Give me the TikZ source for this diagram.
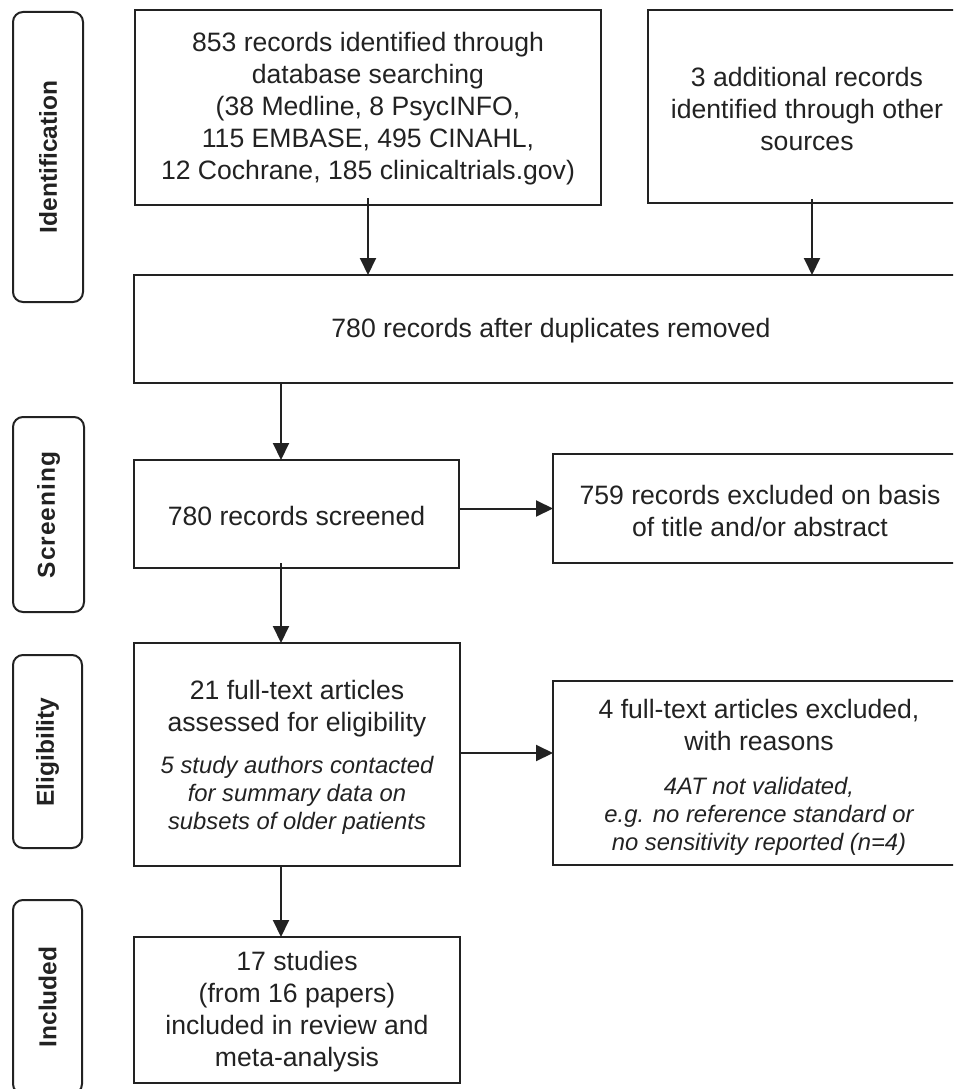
\documentclass[tikz,border=0pt]{standalone}
\usepackage{fontspec}
\setmainfont{Liberation Sans}
\usetikzlibrary{arrows.meta}
\definecolor{ink}{HTML}{222222}
\newcommand\mtxt{\fontsize{26.6}{32}\selectfont}
\newcommand\itxt{\fontsize{23.8}{28}\selectfont\itshape}
\newcommand\lbltxt{\fontsize{24.5}{28}\selectfont\bfseries}
\begin{document}
\begin{tikzpicture}[x=1pt,y=-1pt,
  every node/.style={inner sep=0pt, outer sep=0pt, text=ink},
  stagebox/.style={draw=ink, line width=2pt, rounded corners=10pt},
  stagelbl/.style={font=\lbltxt, rotate=90},
  txt/.style={font=\mtxt, align=center},
  ittxt/.style={font=\itxt, align=center},
  arr/.style={draw=ink, line width=2pt, -{Triangle[length=17pt,width=16pt]}}
]
\useasboundingbox (0,0) rectangle (953,1089);
\clip (0,0) rectangle (953,1089);

% stage labels
\draw[stagebox] (13,12) rectangle (83,302);
\node[stagelbl] (lid) at (48,157) {Identification};
\draw[stagebox] (13,417) rectangle (84,612);
\node[stagelbl] (lsc) at (48.5,515) {\addfontfeature{LetterSpace=4}Screening};
\draw[stagebox] (13,655) rectangle (82,848);
\node[stagelbl] (lel) at (47.5,752) {Eligibility};
\draw[stagebox] (13,900) rectangle (82,1094);
\node[stagelbl] (lin) at (47.5,997) {Included};

% boxes
\node[draw=ink, line width=2pt, minimum width=466pt, minimum height=195pt] (b1) at (368,107.5) {};
\node[txt] (t1) at (368,109) {853 records identified through\\database searching\\(38 Medline, 8 PsycINFO,\\115 EMBASE, 495 CINAHL,\\12 Cochrane, 185 clinicaltrials.gov)};

\node[draw=ink, line width=2pt, minimum width=318pt, minimum height=193pt] (b2) at (807,106.5) {};
\node[txt] (t2) at (807,109) {3 additional records\\identified through other\\sources};

\node[draw=ink, line width=2pt, minimum width=833pt, minimum height=108pt] (b3) at (550,329) {};
\node[txt] (t3) at (551,331) {780 records after duplicates removed};

\node[draw=ink, line width=2pt, minimum width=325pt, minimum height=108pt] (b4) at (296.5,514) {};
\node[txt] (t4) at (296.5,516) {780 records screened};

\node[draw=ink, line width=2pt, minimum width=413pt, minimum height=109pt] (b5) at (759.5,508.5) {};
\node[txt] (t5) at (760,511) {759 records excluded on basis\\of title and/or abstract};

\node[draw=ink, line width=2pt, minimum width=326pt, minimum height=223pt] (b6) at (297,754.5) {};
\node[txt] (t6a) at (297,709) {21 full-text articles\\assessed for eligibility};
\node[ittxt] (t6b) at (297,795) {5 study authors contacted\\for summary data on\\subsets of older patients};

\node[draw=ink, line width=2pt, minimum width=413pt, minimum height=184pt] (b8) at (759.5,773) {};
\node[txt] (t8a) at (759,725) {4 full-text articles excluded,\\with reasons};
\node[ittxt] (t8b) at (759,816) {4AT not validated,\\e.g. no reference standard or\\no sensitivity reported (n=4)};

\node[draw=ink, line width=2pt, minimum width=326pt, minimum height=146pt] (b7) at (297,1010) {};
\node[txt] (t7) at (297,1012) {17 studies\\(from 16 papers)\\included in review and\\meta-analysis};

% connectors
\coordinate (xa) at (281,0);
\draw[arr] ([yshift=7pt]b1.south) -- (b1.south |- b3.north);
\draw[arr] ([xshift=5pt,yshift=4pt]b2.south) -- ([xshift=5pt]b2.south |- b3.north);
\draw[arr] (b3.south -| xa) -- (b4.north -| xa);
\draw[arr] (b4.east |- b5.west) -- (b5.west);
\draw[arr] ([yshift=5pt]b4.south -| xa) -- (b6.north -| xa);
\draw[arr] (b6.east |- 0,753) -- (b8.west |- 0,753);
\draw[arr] (b6.south -| xa) -- (b7.north -| xa);
\end{tikzpicture}
\end{document}
